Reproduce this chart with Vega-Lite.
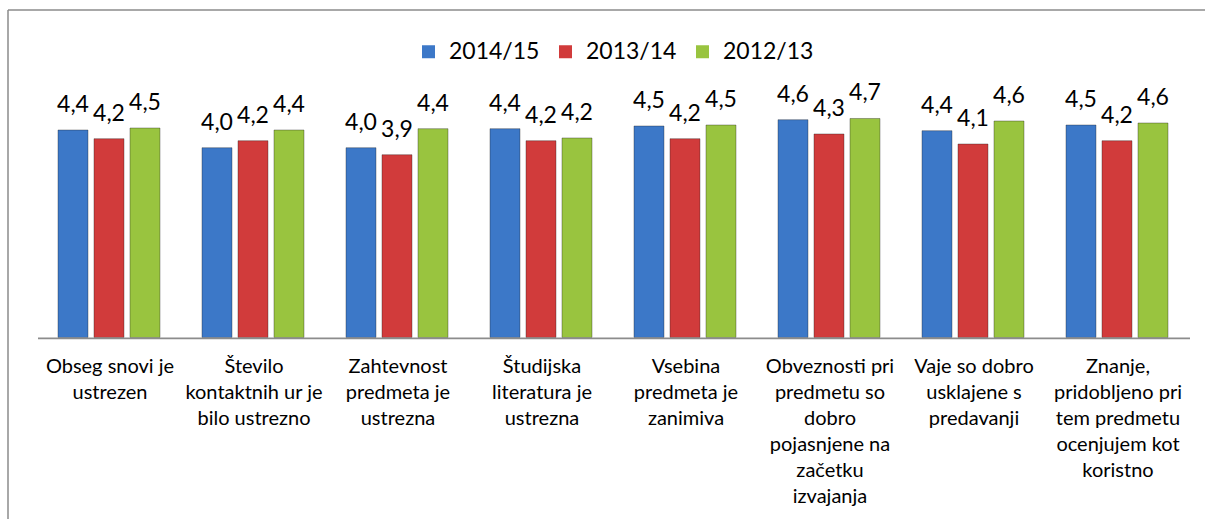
{
  "$schema": "https://vega.github.io/schema/vega-lite/v6.json",
  "autosize": {"type": "none"},
  "padding": {"left": 8, "top": 10, "right": 0, "bottom": 0},
  "width": 1197,
  "height": 509,
  "background": "white",
  "config": {
    "locale": {"number": {"decimal": ",", "thousands": ".", "grouping": [3], "currency": ["", " €"]}},
    "view": {"stroke": "#8c8c8c", "strokeWidth": 1.5, "strokeDash": [1197, 1706, 509, 0], "strokeCap": "butt"},
    "font": "Lato",
    "legend": {
      "orient": "none",
      "legendX": 409,
      "legendY": 30,
      "direction": "horizontal",
      "symbolType": "square",
      "symbolSize": 169,
      "symbolStrokeWidth": 0,
      "labelFontSize": 23,
      "labelFont": "Lato",
      "labelColor": "#000000",
      "labelOffset": 9,
      "columnPadding": 14,
      "title": null
    }
  },
  "data": {
    "values": [
      {"k": "Obseg snovi je\nustrezen", "s": "2014/15", "v": 4.415},
      {"k": "Obseg snovi je\nustrezen", "s": "2013/14", "v": 4.23},
      {"k": "Obseg snovi je\nustrezen", "s": "2012/13", "v": 4.457},
      {"k": "Število\nkontaktnih ur je\nbilo ustrezno", "s": "2014/15", "v": 4.038},
      {"k": "Število\nkontaktnih ur je\nbilo ustrezno", "s": "2013/14", "v": 4.187},
      {"k": "Število\nkontaktnih ur je\nbilo ustrezno", "s": "2012/13", "v": 4.415},
      {"k": "Zahtevnost\npredmeta je\nustrezna", "s": "2014/15", "v": 4.038},
      {"k": "Zahtevnost\npredmeta je\nustrezna", "s": "2013/14", "v": 3.889},
      {"k": "Zahtevnost\npredmeta je\nustrezna", "s": "2012/13", "v": 4.443},
      {"k": "Študijska\nliteratura je\nustrezna", "s": "2014/15", "v": 4.443},
      {"k": "Študijska\nliteratura je\nustrezna", "s": "2013/14", "v": 4.187},
      {"k": "Študijska\nliteratura je\nustrezna", "s": "2012/13", "v": 4.245},
      {"k": "Vsebina\npredmeta je\nzanimiva", "s": "2014/15", "v": 4.5},
      {"k": "Vsebina\npredmeta je\nzanimiva", "s": "2013/14", "v": 4.23},
      {"k": "Vsebina\npredmeta je\nzanimiva", "s": "2012/13", "v": 4.521},
      {"k": "Obveznosti pri\npredmetu so\ndobro\npojasnjene na\nzačetku\nizvajanja", "s": "2014/15", "v": 4.634},
      {"k": "Obveznosti pri\npredmetu so\ndobro\npojasnjene na\nzačetku\nizvajanja", "s": "2013/14", "v": 4.33},
      {"k": "Obveznosti pri\npredmetu so\ndobro\npojasnjene na\nzačetku\nizvajanja", "s": "2012/13", "v": 4.66},
      {"k": "Vaje so dobro\nusklajene s\npredavanji", "s": "2014/15", "v": 4.4},
      {"k": "Vaje so dobro\nusklajene s\npredavanji", "s": "2013/14", "v": 4.117},
      {"k": "Vaje so dobro\nusklajene s\npredavanji", "s": "2012/13", "v": 4.606},
      {"k": "Znanje,\npridobljeno pri\ntem predmetu\nocenjujem kot\nkoristno", "s": "2014/15", "v": 4.521},
      {"k": "Znanje,\npridobljeno pri\ntem predmetu\nocenjujem kot\nkoristno", "s": "2013/14", "v": 4.187},
      {"k": "Znanje,\npridobljeno pri\ntem predmetu\nocenjujem kot\nkoristno", "s": "2012/13", "v": 4.564}
    ]
  },
  "encoding": {
    "x": {
      "field": "k",
      "type": "nominal",
      "sort": null,
      "scale": {"paddingInner": 0, "paddingOuter": 0.15625, "align": 0.6667},
      "axis": null
    }
  },
  "layer": [
    {
      "mark": {"type": "bar", "stroke": "#1a1a1a", "strokeOpacity": 0.35, "strokeWidth": 1},
      "encoding": {
        "xOffset": {
          "field": "s",
          "type": "nominal",
          "scale": {"domain": ["2014/15", "2013/14", "2012/13"], "paddingInner": 0.1667, "paddingOuter": 0.5833, "align": 0.476}
        },
        "y": {
          "field": "v",
          "type": "quantitative",
          "scale": {"domain": [-3.862, 6.968], "nice": false, "zero": false},
          "axis": null
        },
        "y2": {"datum": 0},
        "color": {
          "field": "s",
          "type": "nominal",
          "scale": {"domain": ["2014/15", "2013/14", "2012/13"], "range": ["#3c78c8", "#d13b3b", "#99c43f"]}
        }
      }
    },
    {
      "mark": {"type": "text", "baseline": "alphabetic", "align": "center", "dy": -18, "fontSize": 23, "font": "Lato", "color": "#000000"},
      "encoding": {
        "xOffset": {"field": "s", "type": "nominal"},
        "y": {"field": "v", "type": "quantitative"},
        "text": {"field": "v", "type": "quantitative", "format": ".1f"}
      }
    },
    {
      "transform": [{"filter": "datum.s === '2014/15'"}],
      "mark": {"type": "bar", "color": "#8c8c8c"},
      "encoding": {
        "y": {"datum": 0, "type": "quantitative"},
        "y2": {"datum": -0.04}
      }
    },
    {
      "transform": [{"filter": "datum.s === '2014/15'"}],
      "mark": {"type": "text", "baseline": "alphabetic", "align": "center", "fontSize": 20, "font": "Lato", "lineHeight": 26, "lineBreak": "\n", "color": "#000000"},
      "encoding": {
        "y": {"datum": -0.755, "type": "quantitative"},
        "text": {"field": "k", "type": "nominal"}
      }
    }
  ]
}
